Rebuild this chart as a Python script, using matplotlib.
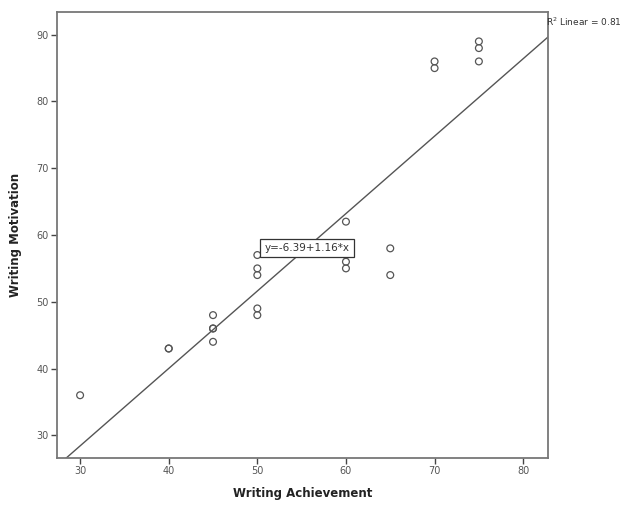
import matplotlib
matplotlib.use('Agg')
import matplotlib.pyplot as plt
import numpy as np

# Writing achievement vs writing motivation
achievement = [30, 40, 40, 45, 45, 45, 45, 50, 50, 50, 50, 50,
               60, 60, 60, 60, 65, 65, 70, 70, 75, 75, 75]
motivation = [36, 43, 43, 44, 46, 46, 48, 57, 55, 54, 49, 48,
              62, 57, 56, 55, 58, 54, 86, 85, 89, 88, 86]

intercept = -6.39
slope = 1.16
r_squared = 0.81

x_ticks = [30, 40, 50, 60, 70, 80]
y_ticks = [30, 40, 50, 60, 70, 80, 90]
x_range = (27.4, 82.8)
y_range = (26.6, 93.4)

fig = plt.figure(figsize=(6.27, 5.12), dpi=100)
ax = fig.add_axes([0.091, 0.1055, 0.783, 0.871])

ax.scatter(achievement, motivation, s=24, facecolors='none',
           edgecolors='#555555', linewidths=0.9, zorder=3)

xs = np.array(x_range)
ax.plot(xs, intercept + slope * xs, color='#555555', linewidth=1.0, zorder=2)

ax.set_xlim(*x_range)
ax.set_ylim(*y_range)
ax.set_xticks(x_ticks)
ax.set_yticks(y_ticks)
ax.tick_params(direction='out', length=4, width=1, colors='#444444',
               labelsize=7, labelcolor='#555555', pad=2)
for s in ax.spines.values():
    s.set_color('#777777')
    s.set_linewidth(1.3)

ax.set_xlabel('Writing Achievement', fontsize=8.5, fontweight='bold',
              color='#222222', labelpad=8)
ax.set_ylabel('Writing Motivation', fontsize=8.5, fontweight='bold',
              color='#222222', labelpad=10)

ax.text(55.6, 58.1, 'y=-6.39+1.16*x', fontsize=7.5, color='#333333',
        ha='center', va='center', zorder=4,
        bbox=dict(boxstyle='square,pad=0.4', facecolor='white',
                  edgecolor='#333333', linewidth=0.9))

ax.text(x_range[1] - 0.2, 92.0, 'R$^2$ Linear = %.2f' % r_squared,
        fontsize=6.5, color='#333333', ha='left', va='center',
        clip_on=False)

fig.savefig('out.png', dpi=100)
